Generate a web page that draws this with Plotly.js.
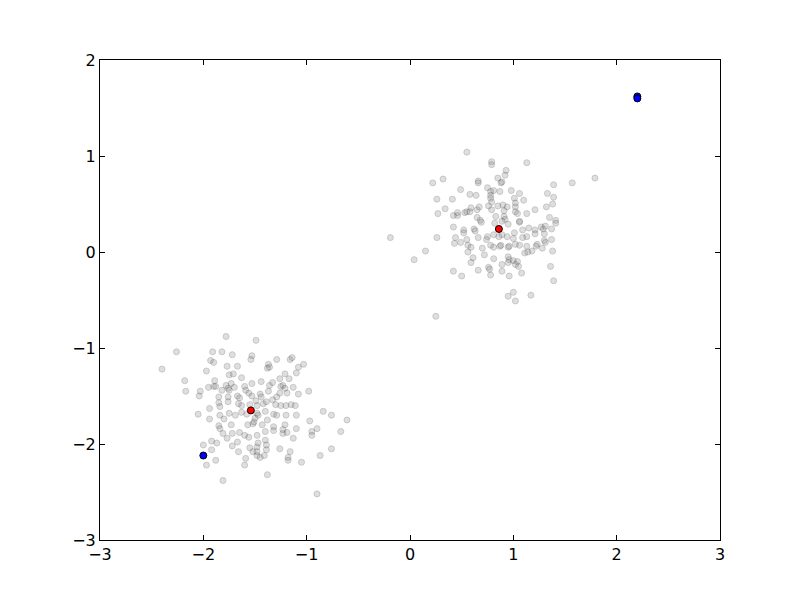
<!DOCTYPE html>
<html>
<head>
<meta charset="utf-8">
<script src="https://cdn.plot.ly/plotly-3.0.1.min.js"></script>
<style>html,body{margin:0;padding:0;background:#fff}</style>
</head>
<body>
<div id="chart" style="width:800px;height:600px"></div>
<script>
// upper right cluster
var cluster1X = [0.55,0.79,0.79,1.13,1.79,1.57,0.22,0.32,0.66,0.66,0.93,0.92,0.85,0.89,0.88,1.39,0.49,0.58,0.64,0.75,
  0.78,0.78,0.81,0.87,0.98,1.06,1.33,1.39,0.26,0.41,0.78,0.79,1.01,1.10,1.02,1.38,0.34,0.27,0.42,0.46,
  0.53,0.55,0.58,0.65,0.67,0.59,0.76,0.79,0.85,0.90,0.94,0.91,1.02,1.02,1.04,1.13,1.21,1.32,1.35,1.41,
  1.41,0.65,0.68,0.69,0.83,0.91,0.92,0.89,0.95,1.06,1.06,0.82,0.42,0.52,0.62,0.63,0.52,-0.19,0.26,0.44,
  0.66,0.75,0.74,0.81,0.89,0.94,1.01,1.09,1.15,1.21,1.27,1.29,1.31,1.37,1.30,1.21,1.13,1.09,1.00,0.86,
  0.49,0.43,0.55,0.56,0.59,0.56,0.70,0.78,0.81,0.87,0.88,0.95,1.02,0.96,1.06,1.13,1.23,1.22,1.30,1.31,
  1.37,1.28,1.11,1.14,1.18,1.38,0.15,0.04,0.61,0.59,0.72,0.81,0.95,0.96,1.00,1.04,1.05,0.89,0.95,1.02,
  0.76,0.77,0.66,0.42,0.50,0.78,0.89,0.96,1.08,1.36,1.39,0.95,1.00,1.02,1.17,0.25,0.46];
var cluster1Y = [1.04,0.94,0.91,0.93,0.77,0.72,0.72,0.76,0.74,0.72,0.85,0.80,0.77,0.73,0.72,0.70,0.65,0.60,0.59,0.67,
  0.63,0.59,0.64,0.63,0.64,0.61,0.61,0.57,0.55,0.55,0.56,0.52,0.56,0.54,0.51,0.50,0.45,0.40,0.38,0.38,
  0.41,0.42,0.42,0.44,0.47,0.46,0.48,0.44,0.48,0.49,0.47,0.43,0.47,0.42,0.40,0.40,0.44,0.47,0.36,0.33,
  0.30,0.36,0.33,0.31,0.37,0.37,0.34,0.32,0.29,0.31,0.32,0.30,0.26,0.23,0.24,0.22,0.20,0.15,0.15,0.15,
  0.15,0.16,0.13,0.18,0.18,0.16,0.20,0.23,0.25,0.23,0.26,0.24,0.27,0.24,0.19,0.19,0.16,0.15,0.14,0.16,
  0.10,0.09,0.13,0.07,0.05,0.00,0.04,0.07,0.05,0.06,0.07,0.05,0.08,0.06,0.07,0.06,0.08,0.06,0.12,0.10,
  0.13,0.04,-0.01,0.00,0.01,0.01,0.01,-0.08,-0.06,-0.11,-0.03,-0.07,-0.05,-0.08,-0.09,-0.10,-0.15,-0.13,-0.11,-0.13,
  -0.16,-0.18,-0.19,-0.20,-0.25,-0.24,-0.20,-0.25,-0.22,-0.15,-0.30,-0.46,-0.42,-0.51,-0.45,-0.67,0.41];

// lower left cluster
var cluster2X = [-1.78,-1.49,-2.26,-1.91,-1.82,-1.72,-1.53,-1.93,-1.90,-1.54,-1.37,-1.29,-1.16,-1.14,-1.03,-1.08,-1.38,-1.36,-2.40,-1.97,
  -1.77,-1.67,-1.75,-1.71,-1.63,-1.26,-1.17,-1.21,-1.10,-2.18,-1.89,-1.90,-1.95,-1.88,-1.78,-1.76,-1.73,-1.70,-1.60,-1.59,
  -1.53,-1.44,-1.36,-1.33,-1.25,-1.23,-1.21,-1.13,-0.98,-1.08,-1.19,-2.17,-2.03,-2.04,-1.82,-1.75,-1.85,-1.76,-1.67,-1.65,
  -1.56,-1.53,-1.45,-1.44,-1.37,-1.29,-1.26,-1.85,-1.84,-1.76,-1.66,-1.63,-1.55,-1.49,-1.48,-1.42,-1.39,-1.33,-1.30,-1.25,
  -1.20,-1.15,-1.11,-1.94,-2.05,-1.84,-1.75,-1.69,-1.63,-1.58,-1.48,-1.47,-1.40,-1.32,-1.29,-1.20,-1.10,-0.84,-0.76,-0.61,
  -0.97,-1.94,-1.80,-1.73,-1.85,-1.84,-1.81,-1.72,-1.65,-1.57,-1.52,-1.50,-1.51,-1.43,-1.38,-1.32,-1.32,-1.40,-1.48,-1.60,
  -1.56,-1.67,-1.77,-1.87,-1.92,-2.00,-1.92,-1.72,-1.66,-1.55,-1.48,-1.47,-1.40,-1.39,-1.39,-1.23,-1.21,-1.23,-1.19,-1.13,
  -1.10,-0.95,-0.95,-0.90,-0.67,-1.26,-1.16,-1.18,-1.18,-1.05,-0.87,-0.76,-1.48,-1.45,-1.41,-1.59,-1.88,-1.97,-1.60,-1.38,
  -1.81,-0.90,-1.52,-1.48];
var cluster2Y = [-0.88,-0.92,-1.04,-1.04,-1.04,-1.07,-1.08,-1.13,-1.15,-1.12,-1.17,-1.12,-1.12,-1.10,-1.17,-1.20,-1.21,-1.20,-1.22,-1.24,
  -1.19,-1.19,-1.28,-1.27,-1.31,-1.32,-1.32,-1.27,-1.26,-1.34,-1.34,-1.40,-1.41,-1.40,-1.39,-1.42,-1.37,-1.41,-1.40,-1.44,
  -1.37,-1.35,-1.39,-1.36,-1.40,-1.39,-1.42,-1.41,-1.45,-1.48,-1.47,-1.45,-1.45,-1.50,-1.44,-1.44,-1.51,-1.51,-1.50,-1.52,
  -1.47,-1.50,-1.48,-1.51,-1.45,-1.51,-1.47,-1.57,-1.61,-1.56,-1.58,-1.60,-1.59,-1.55,-1.60,-1.58,-1.56,-1.54,-1.59,-1.60,
  -1.60,-1.59,-1.60,-1.63,-1.69,-1.70,-1.68,-1.70,-1.67,-1.69,-1.68,-1.70,-1.66,-1.69,-1.70,-1.70,-1.70,-1.66,-1.70,-1.75,
  -1.76,-1.74,-1.74,-1.80,-1.81,-1.84,-1.89,-1.89,-1.88,-1.80,-1.79,-1.73,-1.77,-1.80,-1.75,-1.82,-1.86,-1.87,-1.91,-1.91,
  -1.93,-1.98,-1.94,-1.99,-1.97,-2.01,-2.06,-2.02,-2.08,-2.04,-2.03,-1.99,-1.96,-2.01,-2.06,-1.89,-1.80,-1.85,-1.88,-1.94,
  -1.84,-1.87,-1.91,-1.84,-1.87,-2.05,-2.08,-2.14,-2.17,-2.19,-2.12,-2.05,-2.12,-2.14,-2.12,-2.15,-2.17,-2.22,-2.22,-2.32,
  -2.38,-2.52,-2.08,-2.08];

// cluster centres (red) and starting centres (blue)
var centreX = [0.86, -1.54];
var centreY = [0.24, -1.65];
var startX = [2.20, 2.20, -2.00];
var startY = [1.62, 1.60, -2.12];

var data = [{
  x: cluster1X.concat(cluster2X),
  y: cluster1Y.concat(cluster2Y),
  type: 'scatter',
  mode: 'markers',
  hoverinfo: 'none',
  marker: {size: 6, color: 'rgb(128,128,128)', opacity: 0.25, line: {color: 'black', width: 0.8}}
}, {
  x: startX,
  y: startY,
  type: 'scatter',
  mode: 'markers',
  marker: {size: 7, color: 'blue', line: {color: 'black', width: 1}}
}, {
  x: centreX,
  y: centreY,
  type: 'scatter',
  mode: 'markers',
  marker: {size: 7, color: 'red', line: {color: 'black', width: 1}}
}];

var axisStyle = {
  showgrid: false,
  zeroline: false,
  showline: true,
  linecolor: 'black',
  linewidth: 1,
  mirror: 'ticks',
  ticks: 'inside',
  ticklen: 5,
  tickcolor: 'black',
  dtick: 1,
  tickfont: {family: 'DejaVu Sans', size: 16, color: 'black'}
};

var layout = {
  width: 800,
  height: 600,
  showlegend: false,
  margin: {l: 100, r: 80, t: 60, b: 60},
  paper_bgcolor: 'white',
  plot_bgcolor: 'white',
  xaxis: Object.assign({}, axisStyle, {range: [-3, 3], tick0: -3}),
  yaxis: Object.assign({}, axisStyle, {range: [-3, 2], tick0: -3})
};

Plotly.newPlot('chart', data, layout, {displayModeBar: false});
</script>
</body>
</html>
